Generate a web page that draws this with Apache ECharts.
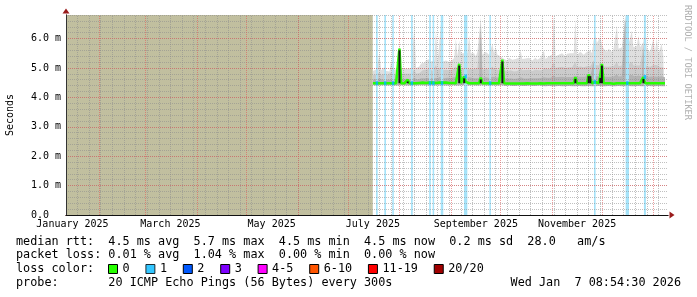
<!DOCTYPE html>
<html><head><meta charset="utf-8">
<script src="https://cdn.jsdelivr.net/npm/echarts@6/dist/echarts.min.js"></script>
<style>html,body{margin:0;padding:0;background:#fff}#c{width:697px;height:297px}</style>
</head><body><div id="c"></div>
<script>
// day index: 0 = 2025-01-01
const FIRST_DAY = 196;            // first day with data (mid July 2025)
const xMin = 11.1, xMax = 373.8;  // visible time window (days)
const unknownRange = [11.1, 195.9];

const smokeMax = [
 4.90,4.92,4.95,4.90,5.48,4.92,4.88,5.03,4.90,4.92,
 4.88,5.25,4.95,4.92,4.95,5.10,5.83,5.00,4.95,4.98,
 4.95,4.97,4.92,5.00,4.95,6.40,5.00,4.95,5.05,5.15,
 5.20,5.18,5.25,5.20,5.30,5.22,5.18,5.25,6.27,5.20,
 5.25,6.50,5.22,5.20,5.25,5.30,5.20,5.25,5.28,5.35,
 5.99,5.40,5.93,5.50,5.45,5.50,5.55,5.50,6.10,5.50,
 5.45,5.50,5.40,5.55,5.50,6.72,5.45,5.50,5.55,5.50,
 5.45,5.50,5.82,5.50,5.70,5.45,5.50,5.40,5.35,5.30,
 5.30,5.25,5.35,5.30,5.28,5.22,5.30,5.25,5.35,5.60,
 5.30,5.25,5.32,5.28,5.35,5.30,5.25,5.30,5.35,5.28,
 5.30,5.35,5.30,5.60,5.30,5.35,5.40,5.35,5.45,6.78,
 5.40,5.35,5.45,5.40,5.50,5.45,5.40,5.48,5.45,5.50,
 5.45,5.50,6.67,5.45,5.50,5.55,5.50,5.45,5.50,5.55,
 5.55,5.60,5.50,5.95,6.10,5.85,5.90,6.05,5.80,5.65,
 5.60,5.55,5.65,5.60,5.55,5.65,5.70,6.44,5.65,5.70,
 5.70,5.75,6.78,6.78,5.80,5.75,6.27,5.70,5.65,5.75,
 6.10,5.70,5.65,5.88,6.60,5.65,5.60,5.55,5.60,6.00,
 5.55,6.00,5.50,5.45,5.82,5.40,5.35
];
const smokeUpper = [
 4.75,4.76,4.78,4.74,4.85,4.76,4.74,4.80,4.75,4.76,
 4.74,4.85,4.78,4.76,4.78,4.82,5.40,4.80,4.78,4.80,
 4.78,4.80,4.76,4.80,4.78,4.95,4.80,4.78,4.82,4.88,
 4.92,4.90,4.95,4.92,4.96,4.92,4.90,4.94,5.10,4.92,
 4.95,5.05,4.92,4.90,4.94,4.96,4.92,4.94,4.95,4.98,
 5.05,4.95,5.10,4.96,4.94,4.98,4.96,4.95,5.00,4.96,
 4.94,4.96,4.92,4.98,4.95,6.60,4.94,4.96,4.98,4.95,
 4.94,4.96,5.05,4.96,5.00,4.94,4.96,4.92,5.25,4.92,
 4.92,4.90,4.94,4.92,4.90,4.88,4.92,4.90,4.94,5.00,
 4.92,4.90,4.93,4.91,4.94,4.92,4.90,4.92,4.94,4.91,
 4.92,4.94,4.92,5.00,4.94,4.96,4.98,4.96,5.00,5.20,
 5.00,4.98,5.02,5.00,5.04,5.02,5.00,5.03,5.02,5.04,
 5.02,5.04,5.20,5.02,5.04,5.05,5.04,5.02,5.04,5.06,
 5.10,5.06,5.04,5.25,5.10,5.05,5.08,5.20,5.15,5.06,
 5.05,5.04,5.06,5.05,5.04,5.06,5.08,5.20,5.06,5.08,
 5.08,5.10,6.72,6.68,5.12,5.10,5.20,5.08,5.06,5.08,
 5.12,5.08,5.06,5.80,5.15,5.06,5.05,5.04,5.05,5.10,
 5.05,5.10,5.04,5.02,5.08,5.02,5.00
];
const smokeInner = [
 4.60,4.61,4.62,4.60,4.64,4.61,4.60,4.62,4.60,4.61,
 4.60,4.64,4.62,4.61,4.62,4.63,5.30,4.62,4.61,4.62,
 4.62,4.63,4.61,4.62,4.62,4.66,4.62,4.61,4.63,4.65,
 4.66,4.65,4.67,4.66,4.68,4.66,4.65,4.66,4.72,4.66,
 4.67,4.70,4.66,4.65,4.66,4.67,4.66,4.66,4.67,4.68,
 4.70,4.67,5.00,4.67,4.66,4.75,4.67,4.66,4.68,4.67,
 4.66,4.67,4.65,4.67,4.66,6.30,4.66,4.67,4.68,4.66,
 4.66,4.67,4.70,4.67,4.68,4.66,4.67,4.65,5.20,4.65,
 4.65,4.64,4.66,4.65,4.64,4.63,4.65,4.64,4.66,4.68,
 4.65,4.64,4.65,4.64,4.66,4.65,4.64,4.65,4.66,4.65,
 4.65,4.66,4.65,4.68,4.66,4.67,4.68,4.67,4.68,4.75,
 4.68,4.67,4.69,4.68,4.70,4.69,4.68,4.69,4.69,4.70,
 4.69,4.70,4.72,4.69,4.70,4.70,4.70,4.69,4.70,4.78,
 4.78,4.71,4.70,5.20,4.72,4.70,4.72,4.72,5.10,4.71,
 4.70,4.70,4.71,4.70,4.70,4.71,4.72,4.78,4.71,4.72,
 4.72,4.73,6.60,6.50,4.74,4.73,4.76,4.72,4.71,4.72,
 4.74,4.72,4.71,5.70,4.74,4.71,4.70,4.70,4.71,4.73,
 4.71,4.73,4.70,4.69,4.72,4.69,4.68
];
const smokeMin = [
 4.41,4.40,4.40,4.41,4.40,4.40,4.41,4.40,4.40,4.41,
 4.40,4.40,4.41,4.40,4.40,4.41,4.40,4.40,4.41,4.40,
 4.40,4.41,4.40,4.40,4.41,4.40,4.40,4.40,4.41,4.40,
 4.41,4.40,4.40,4.41,4.40,4.40,4.41,4.40,4.40,4.41,
 4.40,4.40,4.41,4.40,4.40,4.41,4.40,4.40,4.41,4.40,
 4.40,4.41,4.40,4.40,4.41,4.40,4.40,4.41,4.40,4.40,
 4.41,4.40,4.40,4.41,4.40,4.40,4.41,4.40,4.40,4.41,
 4.40,4.40,4.41,4.40,4.40,4.41,4.40,4.40,4.41,4.40,
 4.39,4.39,4.40,4.39,4.39,4.40,4.39,4.39,4.40,4.39,
 4.39,4.40,4.39,4.39,4.40,4.39,4.39,4.40,4.39,4.39,
 4.40,4.39,4.39,4.40,4.38,4.38,4.39,4.38,4.38,4.39,
 4.38,4.38,4.39,4.38,4.38,4.39,4.38,4.38,4.39,4.38,
 4.38,4.39,4.38,4.38,4.39,4.38,4.38,4.39,4.38,4.38,
 4.39,4.38,4.38,4.39,4.38,4.38,4.39,4.38,4.38,4.39,
 4.38,4.38,4.39,4.38,4.38,4.39,4.38,4.38,4.39,4.38,
 4.38,4.39,4.38,4.38,4.39,4.38,4.38,4.39,4.38,4.38,
 4.39,4.38,4.38,4.39,4.38,4.38,4.39,4.38,4.38,4.39,
 4.38,4.38,4.39,4.38,4.38,4.39,4.38
];
const median = [
 4.48,4.48,4.48,4.48,4.48,4.48,4.48,4.48,4.48,4.48,
 4.48,4.48,4.48,4.48,4.48,4.48,5.66,4.48,4.48,4.48,
 4.48,4.60,4.48,4.48,4.48,4.48,4.48,4.48,4.49,4.49,
 4.50,4.50,4.49,4.50,4.50,4.49,4.50,4.50,4.49,4.50,
 4.50,4.49,4.50,4.49,4.50,4.49,4.49,4.48,4.49,4.48,
 4.48,4.48,5.14,4.48,4.48,4.71,4.52,4.48,4.48,4.48,
 4.48,4.48,4.48,4.48,4.48,4.67,4.48,4.48,4.48,4.48,
 4.48,4.48,4.48,4.48,4.48,4.48,4.48,4.48,5.28,4.48,
 4.47,4.47,4.48,4.47,4.47,4.47,4.48,4.47,4.47,4.47,
 4.47,4.47,4.47,4.48,4.47,4.47,4.47,4.47,4.48,4.47,
 4.47,4.48,4.47,4.47,4.48,4.48,4.48,4.48,4.48,4.48,
 4.48,4.48,4.48,4.48,4.48,4.48,4.48,4.48,4.48,4.48,
 4.48,4.48,4.69,4.48,4.48,4.48,4.48,4.48,4.48,4.48,
 4.78,4.78,4.48,4.48,4.52,4.48,4.48,4.72,5.14,4.48,
 4.48,4.48,4.48,4.48,4.48,4.46,4.48,4.48,4.48,4.48,
 4.48,4.48,4.48,4.48,4.48,4.48,4.48,4.48,4.48,4.48,
 4.48,4.48,4.48,4.69,4.48,4.48,4.48,4.48,4.48,4.48,
 4.48,4.48,4.48,4.48,4.48,4.48,4.48
];
// periods with 1 of 20 pings lost (day ranges) and the median there
const lossStart  = [197.9,202.9,207.7,219.0,229.9,232.0,236.9,250.9,266.2,329.2,348.3,359.3];
const lossEnd    = [198.9,203.9,208.6,220.0,230.9,232.9,238.4,252.9,267.1,330.2,350.3,360.5];
const lossMedian = [4.48,4.48,4.48,4.48,4.48,4.48,4.48,4.71,4.48,4.52,4.48,4.69];

const monthStarts = [31,59,90,120,151,181,212,243,273,304,334,365];
const weekLines = [18,25,32,39,46,53,60,67,74,81,88,95,102,109,116,123,130,137,144,151,158,165,172,179,186,193,200,207,214,221,228,235,242,249,256,263,270,277,284,291,298,305,312,319,326,333,340,347,354,361,368];
const xLabelDays  = [15, 74, 135, 196, 258, 319];
const xLabelNames = ['January 2025','March 2025','May 2025','July 2025','September 2025','November 2025'];
const yTicks = [0,1,2,3,4,5,6];
const yTickLabels = ['0.0  ','1.0 m','2.0 m','3.0 m','4.0 m','5.0 m','6.0 m'];
const lossNames  = ['0','1','2','3','4-5','6-10','11-19','20/20'];
const lossColors = ['#26ff00','#00b8ff','#0059ff','#7e00ff','#ff00ff','#ff5500','#ff0000','#a00000'];

const statLines = [
 'median rtt:  4.5 ms avg  5.7 ms max  4.5 ms min  4.5 ms now  0.2 ms sd  28.0   am/s',
 'packet loss: 0.01 % avg  1.04 % max  0.00 % min  0.00 % now',
 'loss color:',
 'probe:       20 ICMP Echo Pings (56 Bytes) every 300s'
];
const stampText = 'Wed Jan  7 08:54:30 2026';

const MONO = '"DejaVu Sans Mono", "Liberation Mono", monospace';
const days = smokeMax.map((_, i) => FIRST_DAY + i);
const pair = arr => arr.map((v, i) => [days[i], v]);

const spikeData = [];
median.forEach((v, i) => {
  if (v >= 4.55) {
    const base = Math.min(median[i - 1] ?? v, median[i + 1] ?? v);
    spikeData.push([days[i], base, v - 0.06]);
  }
});

const lossAreas = lossStart.map((s, i) => [
  {xAxis: s, itemStyle: {color: '#a6e3f9'}},
  {xAxis: lossEnd[i]}
]);

// smoke bands painted from the outermost (highest) to the innermost, each filled down to the axis,
// and the region below the fastest ping cleared again
const smokeLayer = (name, arr, color) => ({
  name, type: 'line', data: pair(arr), symbol: 'none', silent: true, z: 2,
  lineStyle: {width: 0, opacity: 0}, areaStyle: {color, opacity: 1}
});

const series = [
  Object.assign(smokeLayer('smokeLight', smokeMax, '#dfdfdf'), {
    markLine: {
      silent: true, z: 3, symbol: 'none', label: {show: false},
      lineStyle: {color: 'rgba(140,140,140,0.55)', type: [1, 1], width: 1},
      data: weekLines.map(d => ({xAxis: d}))
    }
  }),
  Object.assign(smokeLayer('smokeMid', smokeUpper, '#cbcbcb'), {
    markLine: {
      silent: true, z: 4, symbol: 'none', label: {show: false},
      lineStyle: {color: 'rgba(225,90,90,0.6)', type: [1, 1], width: 1},
      data: monthStarts.map(d => ({xAxis: d}))
    }
  }),
  smokeLayer('smokeDark', smokeInner, '#b3b3b3'),
  Object.assign(smokeLayer('smokeClear', smokeMin, '#ffffff'), {
    markArea: {
      silent: true, z: 2.5,
      data: [[{xAxis: unknownRange[0], itemStyle: {color: '#c1bf9f'}}, {xAxis: unknownRange[1]}]].concat(lossAreas)
    }
  }),
  {
    name: '0', type: 'line', data: pair(median), symbol: 'none', z: 7, silent: true,
    itemStyle: {color: lossColors[0]}, lineStyle: {color: lossColors[0], width: 2.6}
  },
  {
    name: 'spikes', type: 'custom', silent: true, z: 8, data: spikeData,
    encode: {x: 0, y: [1, 2]},
    renderItem: (params, api) => {
      const a = api.coord([api.value(0), api.value(1)]);
      const b = api.coord([api.value(0), api.value(2)]);
      return {type: 'rect', shape: {x: a[0] - 1, y: b[1], width: 2, height: a[1] - b[1]}, style: {fill: '#161616'}};
    }
  },
  {
    name: '1', type: 'scatter', z: 9, silent: true, symbol: 'rect', symbolSize: [2.5, 4],
    itemStyle: {color: lossColors[1]},
    data: lossStart.map((s, i) => [(s + lossEnd[i]) / 2, lossMedian[i]])
  }
];
for (let k = 2; k < lossNames.length; k++) {
  series.push({name: lossNames[k], type: 'line', data: [], itemStyle: {color: lossColors[k]}, lineStyle: {color: lossColors[k]}});
}

const chart = echarts.init(document.getElementById('c'), null, {renderer: 'canvas'});
chart.setOption({
  animation: false,
  backgroundColor: '#ffffff',
  grid: {left: 66, right: 29, top: 15, bottom: 82, containLabel: false, outerBoundsMode: 'none'},
  xAxis: [
    {
      type: 'value', min: xMin, max: xMax, z: 4,
      axisLine: {show: true, onZero: false, lineStyle: {color: '#111', width: 1}},
      axisTick: {show: false}, splitLine: {show: false},
      axisLabel: {
        customValues: xLabelDays, margin: 4, color: '#000', fontFamily: MONO, fontSize: 10,
        formatter: v => { const i = xLabelDays.findIndex(d => Math.abs(d - v) < 1e-6); return i >= 0 ? xLabelNames[i] : ''; }
      }
    },
    {
      type: 'value', min: xMin, max: xMax, z: 3, position: 'bottom',
      axisLine: {show: true, onZero: false, symbol: ['none', 'triangle'], symbolSize: [7, 5], symbolOffset: [0, 4], lineStyle: {color: '#9a1c1c', width: 1}},
      axisTick: {show: false}, axisLabel: {show: false}, splitLine: {show: false}
    }
  ],
  yAxis: [
    {
      type: 'value', min: 0, max: 6.8, interval: 1, z: 4, position: 'left',
      name: 'Seconds', nameLocation: 'middle', nameRotate: 90, nameGap: 51,
      nameTextStyle: {color: '#000', fontFamily: MONO, fontSize: 10},
      axisLine: {show: true, onZero: false, lineStyle: {color: '#333', width: 1}},
      axisTick: {show: false},
      axisLabel: {
        margin: 5, color: '#000', fontFamily: MONO, fontSize: 10,
        formatter: v => { const i = yTicks.findIndex(t => Math.abs(t - v) < 1e-6); return i >= 0 ? yTickLabels[i] : ''; }
      },
      splitLine: {show: true, showMinLine: false, showMaxLine: false, lineStyle: {color: 'rgba(225,90,90,0.6)', type: [1, 1], width: 1}}
    },
    {
      type: 'value', min: 0, max: 6.8, interval: 0.2, z: 3, position: 'left',
      axisLine: {show: true, onZero: false, symbol: ['none', 'triangle'], symbolSize: [7, 5], symbolOffset: [0, 4], lineStyle: {color: '#9a1c1c', width: 1}},
      axisTick: {show: false}, axisLabel: {show: false},
      splitLine: {show: true, showMinLine: false, lineStyle: {color: 'rgba(140,140,140,0.55)', type: [1, 1], width: 1}}
    }
  ],
  legend: {
    data: lossNames, left: 108, top: 263, orient: 'horizontal', padding: 0,
    icon: 'rect', itemWidth: 9, itemHeight: 9, itemGap: 15.8, selectedMode: false,
    itemStyle: {borderColor: '#000', borderWidth: 1},
    textStyle: {color: '#000', fontFamily: MONO, fontSize: 11.8, lineHeight: 12}
  },
  graphic: [
    {type: 'text', x: 16, y: 241.7, silent: true, style: {text: statLines[0], font: '11.8px ' + MONO, fill: '#000', verticalAlign: 'middle'}},
    {type: 'text', x: 16, y: 255.2, silent: true, style: {text: statLines[1], font: '11.8px ' + MONO, fill: '#000', verticalAlign: 'middle'}},
    {type: 'text', x: 16, y: 269.3, silent: true, style: {text: statLines[2], font: '11.8px ' + MONO, fill: '#000', verticalAlign: 'middle'}},
    {type: 'text', x: 16, y: 282.8, silent: true, style: {text: statLines[3], font: '11.8px ' + MONO, fill: '#000', verticalAlign: 'middle'}},
    {type: 'text', x: 681, y: 282.8, silent: true, style: {text: stampText, font: '11.8px ' + MONO, fill: '#000', align: 'right', verticalAlign: 'middle'}},
    {type: 'text', x: 687, y: 5, rotation: -Math.PI / 2, silent: true, style: {text: 'RRDTOOL / TOBI OETIKER', font: '8.7px ' + MONO, fill: '#b0b0b0', align: 'left', verticalAlign: 'middle'}}
  ],
  series: series
});
</script>
</body></html>
